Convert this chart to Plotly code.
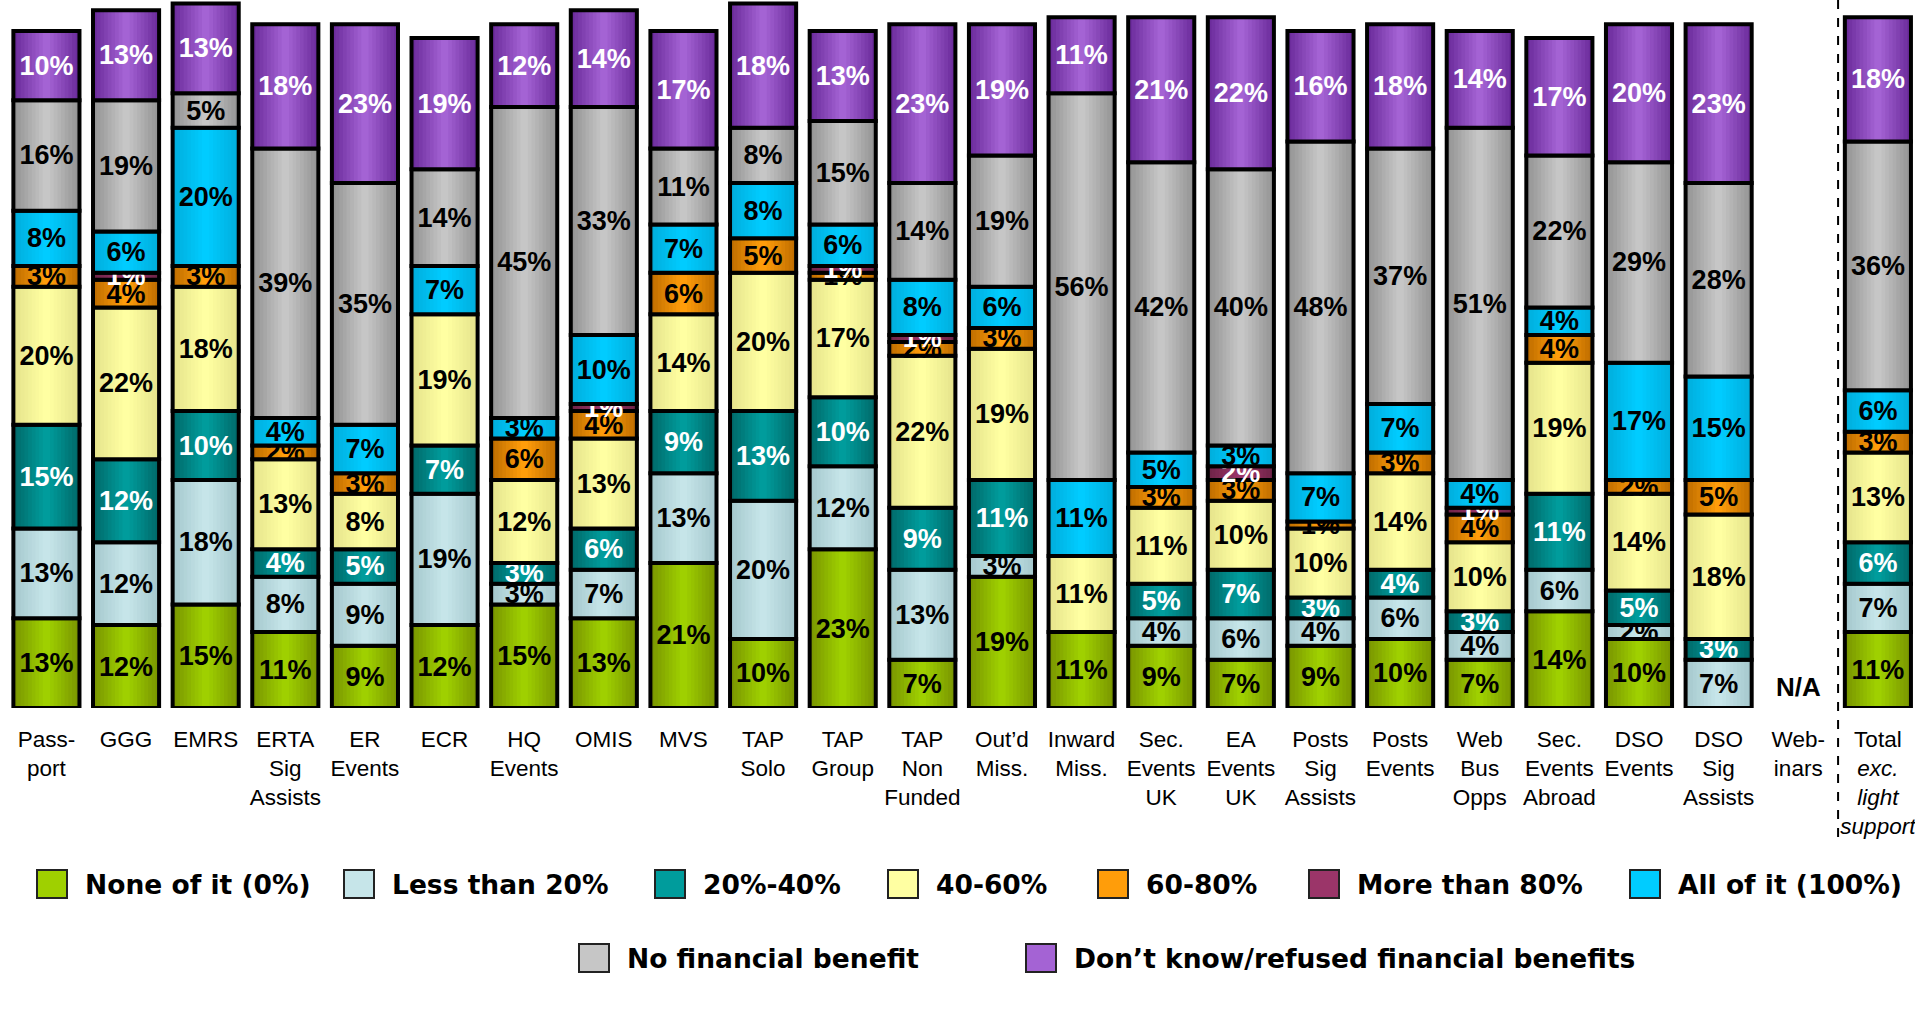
import numpy as np
import plotly.graph_objects as go

# ---- data -----------------------------------------------------------------
categories = [
    "Pass-<br>port", "GGG", "EMRS", "ERTA<br>Sig<br>Assists", "ER<br>Events", "ECR",
    "HQ<br>Events", "OMIS", "MVS", "TAP<br>Solo", "TAP<br>Group", "TAP<br>Non<br>Funded",
    "Out’d<br>Miss.", "Inward<br>Miss.", "Sec.<br>Events<br>UK", "EA<br>Events<br>UK",
    "Posts<br>Sig<br>Assists", "Posts<br>Events", "Web<br>Bus<br>Opps", "Sec.<br>Events<br>Abroad",
    "DSO<br>Events", "DSO<br>Sig<br>Assists", "Web-<br>inars",
    "Total<br><i>exc.</i><br><i>light</i><br><i>support</i>",
]

# share of respondents (%) per category; Web-inars has no data (N/A)
none_of_it   = [13, 12, 15, 11,  9, 12, 15, 13, 21, 10, 23,  7, 19, 11,  9,  7,  9, 10,  7, 14, 10,  0, None, 11]
less_than_20 = [13, 12, 18,  8,  9, 19,  3,  7, 13, 20, 12, 13,  3,  0,  4,  6,  4,  6,  4,  6,  2,  7, None,  7]
pct_20_40    = [15, 12, 10,  4,  5,  7,  3,  6,  9, 13, 10,  9, 11,  0,  5,  7,  3,  4,  3, 11,  5,  3, None,  6]
pct_40_60    = [20, 22, 18, 13,  8, 19, 12, 13, 14, 20, 17, 22, 19, 11, 11, 10, 10, 14, 10, 19, 14, 18, None, 13]
pct_60_80    = [ 3,  4,  3,  2,  3,  0,  6,  4,  6,  5,  1,  2,  3,  0,  3,  3,  1,  3,  4,  4,  2,  5, None,  3]
more_than_80 = [ 0,  1,  0,  0,  0,  0,  0,  1,  0,  0,  1,  1,  0,  0,  0,  2,  0,  0,  1,  0,  0,  0, None,  0]
all_of_it    = [ 8,  6, 20,  4,  7,  7,  3, 10,  7,  8,  6,  8,  6, 11,  5,  3,  7,  7,  4,  4, 17, 15, None,  6]
no_benefit   = [16, 19,  5, 39, 35, 14, 45, 33, 11,  8, 15, 14, 19, 56, 42, 40, 48, 37, 51, 22, 29, 28, None, 36]
dont_know    = [10, 13, 13, 18, 23, 19, 12, 14, 17, 18, 13, 23, 19, 11, 21, 22, 16, 18, 14, 17, 20, 23, None, 18]

series_names = [
    "None of it (0%)", "Less than 20%", "20%-40%", "40-60%", "60-80%",
    "More than 80%", "All of it (100%)", "No financial benefit",
    "Don’t know/refused financial benefits",
]
series_values = [none_of_it, less_than_20, pct_20_40, pct_40_60, pct_60_80,
                 more_than_80, all_of_it, no_benefit, dont_know]

# ---- styling --------------------------------------------------------------
# (edge colour, centre colour) of the horizontal shading of each band
shades = [
    ("#7a9700", "#9fd000"),
    ("#a6c9ce", "#c6e5e9"),
    ("#006b6b", "#009c9c"),
    ("#e6e48c", "#ffffa2"),
    ("#c06e00", "#ff9d0a"),
    ("#702448", "#9b3569"),
    ("#00aedd", "#00ccff"),
    ("#959595", "#c6c6c6"),
    ("#6c2c9c", "#a463d4"),
]
label_colors = ["black", "black", "white", "black", "black", "white", "black", "black", "white"]

FONT = "Liberation Sans, Arial, sans-serif"
BAR_W = 0.83
N_STEPS = 9
W_PX, H_PX = 1915, 1009
MARGIN_B = 301
PLOT_H = H_PX - MARGIN_B


def hex_rgb(h):
    h = h.lstrip("#")
    return np.array([int(h[i:i + 2], 16) for i in (0, 2, 4)], dtype=float)


def mix(c0, c1, t):
    c = hex_rgb(c0) * (1 - t) + hex_rgb(c1) * t
    return "rgb({:.0f},{:.0f},{:.0f})".format(*c)


fig = go.Figure()

vals = np.array([[np.nan if v is None else v for v in s] for s in series_values], dtype=float)
bases = np.vstack([np.zeros(len(categories)), np.nancumsum(vals, axis=0)[:-1]])

for k, name in enumerate(series_names):
    v = vals[k]
    heights = [None if (np.isnan(x) or x == 0) else float(x) for x in v]
    base = [float(b) for b in bases[k]]
    edge, centre = shades[k]
    # shaded fill: progressively narrower, lighter bars towards the centre
    for j in range(N_STEPS):
        fig.add_trace(go.Bar(
            x=categories, y=heights, base=base,
            width=BAR_W * (1 - j / N_STEPS),
            marker=dict(color=mix(edge, centre, j / (N_STEPS - 1)), line=dict(width=0)),
            showlegend=False, hoverinfo="skip",
        ))
    # black outline plus the value label
    texts = ["" if h is None else f"{int(h)}%" for h in heights]
    fig.add_trace(go.Bar(
        x=categories, y=heights, base=base, width=BAR_W, name=name,
        marker=dict(color="rgba(0,0,0,0)", line=dict(color="black", width=4)),
        text=texts, textposition="inside", insidetextanchor="middle",
        constraintext="none", textangle=0,
        textfont=dict(family=FONT, size=27, color=label_colors[k], weight="bold"),
        showlegend=False, hovertemplate=name + ": %{y}%<extra></extra>",
    ))

# N/A marker for the category without data
fig.add_annotation(x=categories[22], y=3.1, xref="x", yref="y", text="<b>N/A</b>",
                   showarrow=False, font=dict(family=FONT, size=26, color="black"))

# dashed separator before the total column
fig.add_shape(type="line", xref="x", yref="paper", x0=22.5, x1=22.5,
              y0=1.0, y1=(PLOT_H - 843) / PLOT_H,
              line=dict(color="black", width=2, dash="dash"))

# legend drawn as boxes + labels in two centred rows
legend_rows = [
    (884, [(0, 83), (1, 390), (2, 701), (3, 934), (4, 1144), (5, 1355), (6, 1676)]),
    (958, [(7, 625), (8, 1072)]),
]
for py, items in legend_rows:
    yc = (PLOT_H - py) / PLOT_H
    for k, tx in items:
        bx = tx - 46
        fig.add_shape(type="rect", xref="paper", yref="paper",
                      x0=bx / W_PX, x1=(bx + 30) / W_PX,
                      y0=yc - 14 / PLOT_H, y1=yc + 14 / PLOT_H,
                      fillcolor=shades[k][1], line=dict(color="#222222", width=2))
        fig.add_annotation(xref="paper", yref="paper", x=tx / W_PX, y=yc,
                           xanchor="left", yanchor="middle", showarrow=False,
                           text=f"<b>{series_names[k]}</b>",
                           font=dict(family="DejaVu Sans, sans-serif", size=26.5, color="black"))

fig.update_layout(
    template="none",
    width=W_PX, height=H_PX,
    margin=dict(l=0, r=0, t=0, b=MARGIN_B, pad=0),
    barmode="overlay",
    paper_bgcolor="white", plot_bgcolor="white",
    showlegend=False,
    xaxis=dict(type="category", categoryorder="array", categoryarray=categories,
               range=[-0.583, 23.466], showgrid=False, zeroline=False, showline=False,
               ticks="", ticklabelstandoff=15,
               tickfont=dict(family=FONT, size=22.5, color="black")),
    yaxis=dict(range=[0, 102.5], visible=False, showgrid=False, zeroline=False),
)

fig.write_html("out.html")
